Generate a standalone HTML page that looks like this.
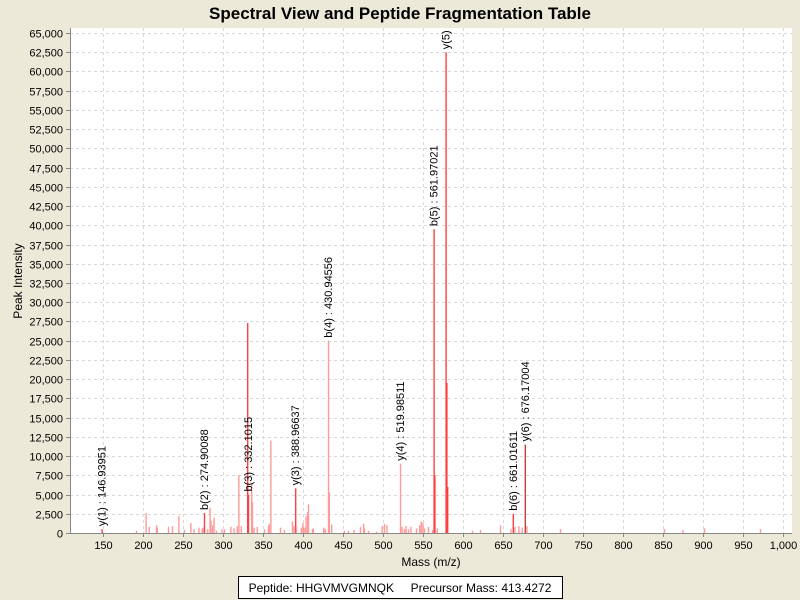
<!DOCTYPE html>
<html><head><style>
body{margin:0;background:#ECE9D8;}
svg{display:block;font-family:"Liberation Sans",Arial,sans-serif;}
</style></head><body>
<svg width="800" height="600" xmlns="http://www.w3.org/2000/svg">
<rect width="800" height="600" fill="#ECE9D8"/>
<text x="400" y="19" text-anchor="middle" font-size="17" font-weight="bold">Spectral View and Peptide Fragmentation Table</text>
<rect x="70" y="28" width="722" height="505" fill="#fff"/>
<g stroke="#d8d8d8" stroke-dasharray="3,3" stroke-width="1" id="grid"></g>
<g id="peaks"></g>
<g id="labels" font-size="11"></g>
<line x1="70.5" y1="28" x2="70.5" y2="533" stroke="#888"/>
<line x1="70" y1="533.5" x2="792" y2="533.5" stroke="#888"/>
<g id="axes" font-size="11"></g>
<text x="431" y="566" text-anchor="middle" font-size="12">Mass (m/z)</text>
<text transform="translate(22,281) rotate(-90)" text-anchor="middle" font-size="12">Peak Intensity</text>
<rect x="238.5" y="576.5" width="324" height="22" fill="#fff" stroke="#000"/>
<text x="400" y="592" text-anchor="middle" font-size="12">Peptide: HHGVMVGMNQK&#160;&#160;&#160;&#160;&#160;Precursor Mass: 413.4272</text>
</svg>
<script>
const NS="http://www.w3.org/2000/svg";
function X(m){return 63+(m-100)*0.8;}
function Y(v){return 533-v*500/65000;}
function el(p,t,a,txt){const e=document.createElementNS(NS,t);for(const k in a)e.setAttribute(k,a[k]);if(txt!==undefined)e.textContent=txt;document.getElementById(p).appendChild(e);}
for(let v=2500;v<=65000;v+=2500){const y=Math.round(Y(v))+0.5;el('grid','line',{x1:70,x2:792,y1:y,y2:y});}
for(let m=150;m<=1000;m+=50){const x=Math.round(X(m))+0.5;el('grid','line',{x1:x,x2:x,y1:28,y2:533});}
for(let v=0;v<=65000;v+=2500){const y=Math.round(Y(v))+0.5;el('axes','line',{x1:66,x2:70,y1:y,y2:y,stroke:'#888'});el('axes','text',{x:63,y:y+4,'text-anchor':'end'},v.toLocaleString('en-US'));}
for(let m=150;m<=1000;m+=50){const x=Math.round(X(m))+0.5;el('axes','line',{x1:x,x2:x,y1:533,y2:537,stroke:'#888'});el('axes','text',{x:x,y:549,'text-anchor':'middle'},m.toLocaleString('en-US'));}
const strong="#ff4040",light="#ff9a9a";
const P=[
[147,500,strong],[190,300,light],[202,2600,light],[206,800,light],[215,1000,light],[216,700,light],[230,800,light],[235,900,light],[243,2200,light],[250,400,light],[258,1300,light],[262,500,light],[268,700,light],[272,600,light],[273,700,light],[275,2600,strong],[279,500,light],[282,3300,light],[283,1600,light],[285,1000,light],[287,2000,light],[290,300,light],[297,500,light],[300,500,light],[308,800,light],[312,600,light],[316,900,light],[318,7500,light],[321,900,light],[329,27300,strong],[330,5000,strong],[334,6500,light],[335,4000,light],[337,700,light],[341,800,light],[350,500,light],[355,900,light],[356,1200,light],[358,12000,light],[370,700,light],[375,400,light],[385,1500,light],[387,900,light],[389,5800,strong],[390,800,light],[396,700,light],[398,1300,light],[399,700,light],[401,700,light],[402,2200,light],[404,2700,light],[405,3700,light],[410,500,light],[411,600,light],[424,700,light],[426,500,light],[430,25000,light],[431,5300,light],[434,1100,light],[450,300,light],[455,300,light],[462,400,light],[470,800,light],[474,1200,light],[475,600,light],[480,300,light],[490,200,light],[497,900,light],[500,1200,light],[503,1000,light],[520,9000,light],[522,800,light],[525,500,light],[527,900,light],[530,500,light],[533,800,light],[540,600,light],[544,1000,light],[546,1500,light],[548,1300,light],[550,600,light],[555,800,light],[560,400,light],[562,39500,strong],[563,7500,strong],[566,600,light],[577,62500,strong],[578,19500,strong],[579,6000,strong],[610,300,light],[620,400,light],[645,1000,light],[658,500,light],[661,2500,strong],[663,800,light],[668,900,light],[672,700,light],[676,11500,"#c04040"],[678,900,light],[720,500,light],[850,500,light],[873,400,light],[900,600,light],[970,500,light]];
for(const [m,v,c] of P){const x=X(m)+1.5;el('peaks','line',{x1:x,x2:x,y1:533,y2:Y(v),stroke:c,'stroke-width':1.4});}
const L=[[147,500,"y(1) : 146.93951"],[275,2600,"b(2) : 274.90088"],[330,5000,"b(3) : 332.1015"],[389,5800,"y(3) : 388.96637"],[430,25000,"b(4) : 430.94556"],[520,9000,"y(4) : 519.98511"],[562,39500,"b(5) : 561.97021"],[577,62500,"y(5)"],[661,2500,"b(6) : 661.01611"],[676,11500,"y(6) : 676.17004"]];
for(const [m,v,t] of L){const x=X(m)+5,y=Y(v)-3;el('labels','text',{transform:`translate(${x},${y}) rotate(-90)`},t);}
</script>
</body></html>
